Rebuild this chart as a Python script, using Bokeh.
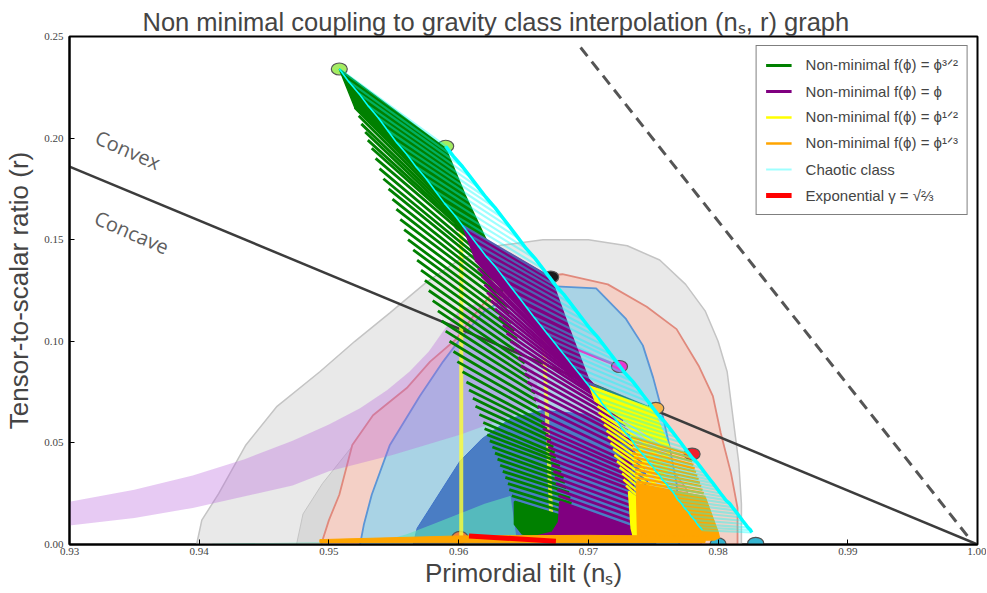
from bokeh.plotting import figure
from bokeh.models import Range1d, FixedTicker, NumeralTickFormatter, Legend, LegendItem, Label
from bokeh.embed import file_html
from bokeh.resources import INLINE

# ------------------------------------------------------------------ data
x_ticks = [0.93, 0.94, 0.95, 0.96, 0.97, 0.98, 0.99, 1.00]
y_ticks = [0.00, 0.05, 0.10, 0.15, 0.20, 0.25]

# background Planck-like contours (ns, r outlines)
grey_out_ns = [0.9398, 0.9402, 0.9415, 0.9436, 0.9460, 0.9493, 0.9520, 0.9547, 0.9575, 0.9600, 0.9630,
               0.9665, 0.9700, 0.9730, 0.9755, 0.9775, 0.9790, 0.9800, 0.9807, 0.9812, 0.9816, 0.9818, 0.9818]
grey_out_r = [0.0, 0.012, 0.025, 0.049, 0.068, 0.085, 0.100, 0.114, 0.129, 0.140, 0.147,
              0.150, 0.150, 0.147, 0.140, 0.128, 0.115, 0.100, 0.085, 0.060, 0.040, 0.020, 0.0]
grey_in_ns = [0.9475, 0.9480, 0.9495, 0.9520, 0.9550, 0.9590, 0.9640, 0.9700, 0.9750, 0.9780, 0.9800, 0.9808, 0.9810]
grey_in_r = [0.0, 0.015, 0.030, 0.050, 0.070, 0.090, 0.100, 0.098, 0.085, 0.065, 0.040, 0.015, 0.0]
red_out_ns = [0.9494, 0.9500, 0.9508, 0.9518, 0.9534, 0.9560, 0.9578, 0.9598, 0.9612, 0.9625, 0.9645,
              0.9680, 0.9715, 0.9745, 0.9768, 0.9785, 0.9796, 0.9802, 0.9810, 0.9815, 0.9815]
red_out_r = [0.0, 0.012, 0.0245, 0.049, 0.0636, 0.077, 0.090, 0.101, 0.113, 0.123, 0.131,
             0.133, 0.128, 0.117, 0.106, 0.088, 0.073, 0.055, 0.035, 0.018, 0.0]
red_in_ns = [0.9552, 0.9556, 0.9564, 0.9588, 0.9610, 0.9640, 0.9680, 0.9720, 0.9755, 0.9775, 0.9785, 0.9787]
red_in_r = [0.0, 0.008, 0.0245, 0.041, 0.052, 0.060, 0.063, 0.058, 0.045, 0.028, 0.010, 0.0]
blue_out_ns = [0.9524, 0.9527, 0.9533, 0.9547, 0.9570, 0.9588, 0.9601, 0.9620, 0.9645, 0.9675, 0.9706,
               0.9729, 0.9742, 0.9750, 0.9755, 0.9762, 0.9768, 0.9770, 0.9770]
blue_out_r = [0.0, 0.010, 0.0245, 0.049, 0.073, 0.090, 0.101, 0.115, 0.124, 0.127, 0.126,
              0.111, 0.098, 0.082, 0.070, 0.050, 0.030, 0.010, 0.0]
blue_in_ns = [0.9565, 0.9568, 0.9588, 0.9601, 0.9618, 0.9640, 0.9665, 0.9700, 0.9725, 0.9742, 0.9750, 0.9752]
blue_in_r = [0.0, 0.008, 0.028, 0.041, 0.052, 0.062, 0.066, 0.064, 0.055, 0.040, 0.020, 0.0]
mint_ns = [0.9410, 0.9540, 0.9560, 0.9580, 0.9600, 0.9620, 0.9640, 0.9645, 0.9410]
mint_r = [0.0004, 0.0015, 0.0050, 0.0100, 0.0150, 0.0200, 0.0240, 0.0015, 0.0001]
band_ns = [0.9300, 0.9350, 0.9395, 0.9435, 0.9472, 0.9500, 0.9524, 0.9545, 0.9562, 0.9577, 0.9588, 0.9600,
           0.9615, 0.9635, 0.9650, 0.9660, 0.9662, 0.9640, 0.9601, 0.9549, 0.9500, 0.9472, 0.9395, 0.9350, 0.9300]
band_r = [0.021, 0.027, 0.034, 0.042, 0.051, 0.059, 0.067, 0.076, 0.085, 0.095, 0.105, 0.115,
          0.119, 0.112, 0.098, 0.082, 0.070, 0.063, 0.054, 0.044, 0.036, 0.029, 0.018, 0.013, 0.0093]

divider_ns = [0.93, 1.00]
divider_r = [0.186, 0.0]
dashed_ns = [0.9694, 0.9995]
dashed_r = [0.2446, 0.002]
pink_ns = [0.9660, 0.9724]
pink_r = [0.104, 0.0876]

bg_dot_ns = [0.9508, 0.9590, 0.9603, 0.9671, 0.9724, 0.9752, 0.9780, 0.9829, 0.9800, 0.9601]
bg_dot_r = [0.234, 0.196, 0.157, 0.1316, 0.0876, 0.067, 0.0445, 0.0006, 0.0003, 0.0035]

# Non-minimal f = phi^(3/2): N=50 end (ns50, r50) -> N=60 end (ns60, r60)
green_fan_ns = [0.9508, 0.9590, 0.9605, 0.9622, 0.9520]
green_fan_r = [0.234, 0.195, 0.172, 0.149, 0.215]
green_ns50 = [0.9520, 0.9523, 0.9525, 0.9528, 0.9530, 0.9533, 0.9536, 0.9539, 0.9542, 0.9546,
              0.9549, 0.9552, 0.9555, 0.9558, 0.9561, 0.9565, 0.9568, 0.9571, 0.9574, 0.9577,
              0.9580, 0.9584, 0.9587, 0.9590, 0.9593, 0.9596, 0.9599, 0.9603, 0.9606, 0.9608,
              0.9611, 0.9613, 0.9616, 0.9619, 0.9620, 0.9622, 0.9624, 0.9626, 0.9628, 0.9630,
              0.9632, 0.9634, 0.9636, 0.9638, 0.9639, 0.9641, 0.9643]
green_r50 = [0.215, 0.211, 0.207, 0.203, 0.199, 0.195, 0.190, 0.185, 0.180, 0.175,
             0.170, 0.165, 0.160, 0.155, 0.150, 0.145, 0.140, 0.135, 0.130, 0.125,
             0.120, 0.115, 0.110, 0.105, 0.100, 0.095, 0.090, 0.085, 0.080, 0.076,
             0.072, 0.068, 0.064, 0.060, 0.057, 0.054, 0.051, 0.048, 0.045, 0.042,
             0.039, 0.036, 0.033, 0.030, 0.027, 0.024, 0.021]
green_ns60 = [0.9622, 0.9622, 0.9623, 0.9623, 0.9624, 0.9625, 0.9626, 0.9627, 0.9629, 0.9631,
              0.9632, 0.9634, 0.9636, 0.9638, 0.9639, 0.9641, 0.9643, 0.9645, 0.9647, 0.9649,
              0.9651, 0.9653, 0.9655, 0.9657, 0.9659, 0.9660, 0.9662, 0.9664, 0.9666, 0.9668,
              0.9669, 0.9671, 0.9673, 0.9674, 0.9675, 0.9677, 0.9678, 0.9679, 0.9681, 0.9682,
              0.9683, 0.9685, 0.9686, 0.9687, 0.9687, 0.9688, 0.9688]
green_r60 = [0.1490, 0.1477, 0.1464, 0.1452, 0.1439, 0.1426, 0.1410, 0.1377, 0.1343, 0.1310,
             0.1277, 0.1243, 0.1210, 0.1170, 0.1131, 0.1091, 0.1051, 0.1011, 0.0972, 0.0932,
             0.0893, 0.0856, 0.0819, 0.0782, 0.0745, 0.0709, 0.0672, 0.0635, 0.0598, 0.0569,
             0.0539, 0.0510, 0.0480, 0.0451, 0.0429, 0.0407, 0.0385, 0.0355, 0.0330, 0.0305,
             0.0280, 0.0255, 0.0228, 0.0202, 0.0175, 0.0148, 0.0122]
green_tail_ns = [0.9643, 0.9688, 0.9689, 0.9686, 0.9660, 0.9649, 0.9643]
green_tail_r = [0.021, 0.0122, 0.007, 0.0045, 0.0042, 0.0052, 0.010]

# Non-minimal f = phi
purple_fan_ns = [0.9603, 0.9671, 0.9686, 0.9701, 0.9703, 0.9613]
purple_fan_r = [0.157, 0.1316, 0.105, 0.080, 0.079, 0.140]
purple_ns50 = [0.9613, 0.9615, 0.9618, 0.9620, 0.9622, 0.9625, 0.9628, 0.9631, 0.9634, 0.9637,
               0.9640, 0.9643, 0.9646, 0.9648, 0.9651, 0.9653, 0.9656, 0.9658, 0.9661, 0.9663,
               0.9664, 0.9665, 0.9667, 0.9668, 0.9669, 0.9670, 0.9671, 0.9672, 0.9673, 0.9674,
               0.9675, 0.9676, 0.9677, 0.9678]
purple_r50 = [0.140, 0.136, 0.132, 0.128, 0.124, 0.120, 0.116, 0.112, 0.108, 0.104,
              0.100, 0.096, 0.092, 0.088, 0.084, 0.080, 0.076, 0.072, 0.068, 0.064,
              0.060, 0.057, 0.054, 0.051, 0.048, 0.045, 0.042, 0.039, 0.036, 0.033,
              0.030, 0.027, 0.024, 0.021]
purple_ns60 = [0.9703, 0.9704, 0.9706, 0.9708, 0.9709, 0.9711, 0.9714, 0.9717, 0.9720, 0.9722,
               0.9725, 0.9726, 0.9727, 0.9729, 0.9730, 0.9732, 0.9734, 0.9734, 0.9734, 0.9734,
               0.9734, 0.9734, 0.9735, 0.9735, 0.9735, 0.9735, 0.9735, 0.9735, 0.9735, 0.9735,
               0.9735, 0.9735, 0.9735, 0.9735]
purple_r60 = [0.0790, 0.0779, 0.0769, 0.0758, 0.0748, 0.0736, 0.0719, 0.0701, 0.0684, 0.0667,
              0.0650, 0.0633, 0.0613, 0.0587, 0.0560, 0.0533, 0.0507, 0.0480, 0.0453, 0.0425,
              0.0396, 0.0374, 0.0352, 0.0330, 0.0308, 0.0287, 0.0265, 0.0241, 0.0214, 0.0187,
              0.0161, 0.0134, 0.0107, 0.0080]
purple_tail_ns = [0.9678, 0.9735, 0.9737, 0.9733, 0.9660, 0.9656, 0.9672, 0.9677]
purple_tail_r = [0.021, 0.0080, 0.0045, 0.0030, 0.0028, 0.0036, 0.0060, 0.011]

# Non-minimal f = phi^(1/2)
yellow_fan_ns = [0.9701, 0.9750, 0.9763, 0.9705]
yellow_fan_r = [0.078, 0.0667, 0.047, 0.071]
yellow_ns50 = [0.9705, 0.9707, 0.9708, 0.9710, 0.9712, 0.9714, 0.9715, 0.9717, 0.9719, 0.9720,
               0.9722, 0.9724, 0.9726, 0.9727, 0.9729, 0.9731, 0.9732, 0.9734, 0.9736, 0.9737]
yellow_r50 = [0.071, 0.068, 0.065, 0.062, 0.059, 0.056, 0.053, 0.050, 0.047, 0.044,
              0.041, 0.038, 0.035, 0.032, 0.029, 0.026, 0.023, 0.020, 0.017, 0.015]
yellow_ns60 = [0.9763, 0.9763, 0.9762, 0.9762, 0.9761, 0.9761, 0.9760, 0.9760, 0.9760, 0.9758,
               0.9757, 0.9756, 0.9755, 0.9754, 0.9753, 0.9752, 0.9751, 0.9750, 0.9748, 0.9748]
yellow_r60 = [0.0470, 0.0448, 0.0425, 0.0403, 0.0380, 0.0358, 0.0335, 0.0313, 0.0290, 0.0268,
              0.0245, 0.0223, 0.0200, 0.0178, 0.0155, 0.0133, 0.0110, 0.0088, 0.0065, 0.0050]
yellow_tail_ns = [0.9731, 0.9753, 0.9748, 0.9745, 0.9735, 0.9733]
yellow_tail_r = [0.026, 0.016, 0.005, 0.0032, 0.0030, 0.008]
yellow_v1_ns = [0.9602, 0.9602]
yellow_v1_r = [0.155, 0.003]
yellow_v2_ns = [0.9665, 0.9672]
yellow_v2_r = [0.110, 0.004]

# Non-minimal f = phi^(1/3)
orange_ns50 = [0.9733, 0.9733, 0.9734, 0.9734, 0.9734, 0.9735, 0.9735, 0.9735, 0.9736, 0.9736,
               0.9736, 0.9737, 0.9737, 0.9737, 0.9737, 0.9738, 0.9738, 0.9738, 0.9739, 0.9739,
               0.9739, 0.9740, 0.9740]
orange_r50 = [0.053, 0.051, 0.049, 0.047, 0.045, 0.043, 0.041, 0.039, 0.037, 0.035,
              0.033, 0.031, 0.029, 0.027, 0.025, 0.023, 0.021, 0.019, 0.017, 0.015,
              0.013, 0.011, 0.009]
orange_ns60 = [0.9778, 0.9779, 0.9780, 0.9781, 0.9782, 0.9783, 0.9784, 0.9785, 0.9786, 0.9787,
               0.9788, 0.9789, 0.9790, 0.9791, 0.9792, 0.9793, 0.9794, 0.9795, 0.9796, 0.9797,
               0.9798, 0.9799, 0.9800]
orange_r60 = [0.0444, 0.0427, 0.0409, 0.0392, 0.0374, 0.0357, 0.0339, 0.0322, 0.0304, 0.0287,
              0.0269, 0.0252, 0.0234, 0.0217, 0.0200, 0.0182, 0.0165, 0.0147, 0.0130, 0.0112,
              0.0095, 0.0077, 0.0060]
orange_tail_ns = [0.9737, 0.9790, 0.9800, 0.9801, 0.9797, 0.9750, 0.9738]
orange_tail_r = [0.030, 0.0234, 0.0060, 0.0035, 0.0022, 0.0020, 0.0040]
orange_strip_ns = [0.9493, 0.9600, 0.9700, 0.9790, 0.9790, 0.9600, 0.9493]
orange_strip_r = [0.0024, 0.0042, 0.0045, 0.0040, 0.0010, 0.0008, 0.0010]

# Chaotic class
chaotic_ns50 = [0.9508, 0.9515, 0.9523, 0.9530, 0.9538, 0.9545, 0.9552, 0.9560, 0.9567, 0.9575,
                0.9582, 0.9589, 0.9597, 0.9603, 0.9609, 0.9615, 0.9621, 0.9628, 0.9634, 0.9640,
                0.9646, 0.9652, 0.9658, 0.9663, 0.9668, 0.9673, 0.9678, 0.9683, 0.9688, 0.9693,
                0.9698, 0.9703, 0.9708, 0.9711, 0.9715, 0.9719, 0.9723, 0.9726, 0.9730, 0.9734,
                0.9737, 0.9741, 0.9745, 0.9747, 0.9750, 0.9752, 0.9755, 0.9757, 0.9760, 0.9762,
                0.9765, 0.9767, 0.9769, 0.9772, 0.9774, 0.9777, 0.9779, 0.9782, 0.9784, 0.9786,
                0.9788]
chaotic_r50 = [0.234, 0.228, 0.222, 0.216, 0.210, 0.204, 0.198, 0.192, 0.186, 0.180,
               0.174, 0.168, 0.162, 0.157, 0.152, 0.147, 0.142, 0.137, 0.132, 0.127,
               0.122, 0.117, 0.112, 0.108, 0.104, 0.100, 0.096, 0.092, 0.088, 0.084,
               0.080, 0.076, 0.072, 0.069, 0.066, 0.063, 0.060, 0.057, 0.054, 0.051,
               0.048, 0.045, 0.042, 0.040, 0.038, 0.036, 0.034, 0.032, 0.030, 0.028,
               0.026, 0.024, 0.022, 0.020, 0.018, 0.016, 0.014, 0.012, 0.010, 0.0085,
               0.007]
chaotic_ns60 = [0.9590, 0.9596, 0.9603, 0.9609, 0.9615, 0.9621, 0.9628, 0.9634, 0.9640, 0.9646,
                0.9652, 0.9659, 0.9665, 0.9670, 0.9675, 0.9681, 0.9686, 0.9691, 0.9696, 0.9701,
                0.9707, 0.9712, 0.9717, 0.9721, 0.9725, 0.9729, 0.9734, 0.9738, 0.9742, 0.9746,
                0.9750, 0.9754, 0.9759, 0.9762, 0.9765, 0.9768, 0.9771, 0.9774, 0.9777, 0.9780,
                0.9784, 0.9787, 0.9790, 0.9792, 0.9794, 0.9796, 0.9798, 0.9800, 0.9802, 0.9804,
                0.9806, 0.9809, 0.9811, 0.9813, 0.9815, 0.9817, 0.9819, 0.9821, 0.9823, 0.9825,
                0.9826]
chaotic_r60 = [0.1960, 0.1910, 0.1859, 0.1809, 0.1759, 0.1709, 0.1658, 0.1608, 0.1558, 0.1508,
               0.1457, 0.1407, 0.1357, 0.1315, 0.1273, 0.1231, 0.1189, 0.1147, 0.1106, 0.1064,
               0.1022, 0.0980, 0.0938, 0.0905, 0.0871, 0.0838, 0.0804, 0.0771, 0.0737, 0.0704,
               0.0670, 0.0637, 0.0603, 0.0578, 0.0553, 0.0528, 0.0503, 0.0477, 0.0452, 0.0427,
               0.0402, 0.0377, 0.0352, 0.0335, 0.0318, 0.0302, 0.0285, 0.0268, 0.0251, 0.0235,
               0.0218, 0.0201, 0.0184, 0.0168, 0.0151, 0.0134, 0.0117, 0.0101, 0.0084, 0.0071,
               0.0059]

# Exponential gamma = sqrt(2/3)
exp_ns = [0.9608, 0.9675]
exp_r = [0.0042, 0.0016]

# ------------------------------------------------------------------ helpers
def segments(a_ns, a_r, b_ns, b_r):
    xs = [[x0, x1] for x0, x1 in zip(a_ns, b_ns)]
    ys = [[y0, y1] for y0, y1 in zip(a_r, b_r)]
    return xs, ys

# ------------------------------------------------------------------ figure
p = figure(frame_width=908, frame_height=508, x_range=Range1d(0.93, 1.0), y_range=Range1d(0.0, 0.25),
           output_backend="svg", toolbar_location=None,
           min_border_left=69, min_border_right=9, min_border_top=36, min_border_bottom=40,
           x_axis_label="Primordial tilt (nₛ)", y_axis_label="Tensor-to-scalar ratio (r)")
p.title.text = "Non minimal coupling to gravity class interpolation (nₛ, r) graph"
p.title.text_font = "Liberation Sans"
p.title.text_font_size = "25.5px"
p.title.text_font_style = "normal"
p.title.align = "left"
p.title.offset = 73
p.title.standoff = 1
p.xgrid.visible = False
p.ygrid.visible = False
p.outline_line_color = "black"
p.outline_line_width = 2
p.xaxis.ticker = FixedTicker(ticks=x_ticks)
p.yaxis.ticker = FixedTicker(ticks=y_ticks)
p.xaxis.formatter = NumeralTickFormatter(format="0.00")
p.yaxis.formatter = NumeralTickFormatter(format="0.00")
for ax in (p.xaxis[0], p.yaxis[0]):
    ax.major_tick_in = 5
    ax.major_tick_out = 0
    ax.minor_tick_line_color = None
    ax.axis_line_color = "black"
    ax.axis_line_width = 2
    ax.major_label_text_font = "Liberation Serif"
    ax.major_label_text_font_size = "11px"
    ax.axis_label_text_font = "Liberation Sans"
    ax.axis_label_text_font_style = "normal"
    ax.axis_label_text_font_size = "26px"
p.xaxis.major_label_standoff = 3
p.xaxis.axis_label_standoff = 0
p.yaxis.major_label_standoff = 6
p.yaxis.axis_label_standoff = 7

# background
p.patch(grey_out_ns, grey_out_r, fill_color="#e9e9e9", line_color="#c4c4c4", line_width=1.5)
p.patch(grey_in_ns, grey_in_r, fill_color="#d9d9d9", line_color="#c4c4c4", line_width=1)
p.patch(red_out_ns, red_out_r, fill_color="#f4d0c6", line_color="#e0897c", line_width=1.8)
p.patch(red_in_ns, red_in_r, fill_color="#eeb2a7", line_color="#e0897c", line_width=1.5)
p.patch(blue_out_ns, blue_out_r, fill_color="#a9d3e5", line_color="#5b95d6", line_width=1.8)
p.patch(blue_in_ns, blue_in_r, fill_color="#4a7dc4", line_color="#3f74c8", line_width=1)
p.patch(mint_ns, mint_r, fill_color="#5ee3b9", line_color=None, fill_alpha=0.6)
p.patch(band_ns, band_r, fill_color="#bb66dd", fill_alpha=0.35, line_color=None)
p.line(divider_ns, divider_r, line_color="#3c3c3c", line_width=2.5)
p.line(dashed_ns, dashed_r, line_color="#555555", line_width=3, line_dash="11 7")
p.line(pink_ns, pink_r, line_color="#e040c8", line_width=2.5)
dot_colors = ["#a4ec62", "#a4ec62", "#1a1a1a", "#1a1a1a", "#e83ad0", "#f5b54a", "#ee1c2c",
              "#36b6d2", "#36b6d2", "#f08040"]
p.ellipse(bg_dot_ns, bg_dot_r, width=16, height=12, width_units="screen", height_units="screen",
          fill_color=dot_colors, line_color="#555555", line_width=1.2)
for txt, xx, yy in (("Convex", 0.9345, 0.1942), ("Concave", 0.9348, 0.1536)):
    p.add_layout(Label(x=xx, y=yy, text=txt, angle=-0.41, text_align="center", text_baseline="middle",
                       text_font="Open Sans", text_font_size="20px", text_color="#5e5e5e"))

# yellow side strips
p.line(yellow_v1_ns, yellow_v1_r, line_color="#ffff33", line_width=4, line_alpha=0.8)
p.line(yellow_v2_ns, yellow_v2_r, line_color="#ffff33", line_width=4, line_alpha=0.8)

# green family
p.patch(green_fan_ns, green_fan_r, fill_color="green", line_color="green", line_width=1.5)
gx, gy = segments(green_ns50, green_r50, green_ns60, green_r60)
r_green = p.multi_line(gx, gy, line_color="green", line_width=2.8)
p.patch(green_tail_ns, green_tail_r, fill_color="green", line_color="green", line_width=1.5)

# purple family
p.patch(purple_fan_ns, purple_fan_r, fill_color="purple", line_color="purple", line_width=1.5)
px_, py_ = segments(purple_ns50, purple_r50, purple_ns60, purple_r60)
r_purple = p.multi_line(px_, py_, line_color="purple", line_width=2.8)
p.patch(purple_tail_ns, purple_tail_r, fill_color="purple", line_color="purple", line_width=1.5)

# yellow family
p.patch(yellow_fan_ns, yellow_fan_r, fill_color="yellow", line_color="yellow", line_width=1.5)
yx, yy_ = segments(yellow_ns50, yellow_r50, yellow_ns60, yellow_r60)
r_yellow = p.multi_line(yx, yy_, line_color="yellow", line_width=2.4)
p.patch(yellow_tail_ns, yellow_tail_r, fill_color="yellow", line_color="yellow", line_width=1.5)

# orange family
ox, oy = segments(orange_ns50, orange_r50, orange_ns60, orange_r60)
r_orange = p.multi_line(ox, oy, line_color="orange", line_width=2.4)
p.patch(orange_tail_ns, orange_tail_r, fill_color="orange", line_color="orange", line_width=1.5)
p.patch(orange_strip_ns, orange_strip_r, fill_color="orange", line_color="orange", line_width=1)

# chaotic class
cx, cy = segments(chaotic_ns50, chaotic_r50, chaotic_ns60, chaotic_r60)
r_cyan = p.multi_line(cx, cy, line_color="cyan", line_width=2.2, line_alpha=0.38)
p.line(chaotic_ns50, chaotic_r50, line_color="cyan", line_width=1.6)
p.line(chaotic_ns60, chaotic_r60, line_color="cyan", line_width=3.5)

# exponential
r_exp = p.line(exp_ns, exp_r, line_color="red", line_width=5)

legend = Legend(items=[
    LegendItem(label="Non-minimal f(ϕ) = ϕ³ᐟ²", renderers=[r_green]),
    LegendItem(label="Non-minimal f(ϕ) = ϕ", renderers=[r_purple]),
    LegendItem(label="Non-minimal f(ϕ) = ϕ¹ᐟ²", renderers=[r_yellow]),
    LegendItem(label="Non-minimal f(ϕ) = ϕ¹ᐟ³", renderers=[r_orange]),
    LegendItem(label="Chaotic class", renderers=[r_cyan]),
    LegendItem(label="Exponential γ = √⅔", renderers=[r_exp]),
], location="top_right")
legend.border_line_color = "black"
legend.border_line_width = 1
legend.background_fill_alpha = 1.0
legend.label_text_font = "Liberation Sans"
legend.label_text_font_size = "15px"
legend.glyph_width = 26
legend.glyph_height = 20
legend.label_height = 20
legend.spacing = 6
legend.padding = 9
legend.margin = 9
legend.label_standoff = 14
p.add_layout(legend)

open("out.html", "w").write(file_html(p, INLINE))
